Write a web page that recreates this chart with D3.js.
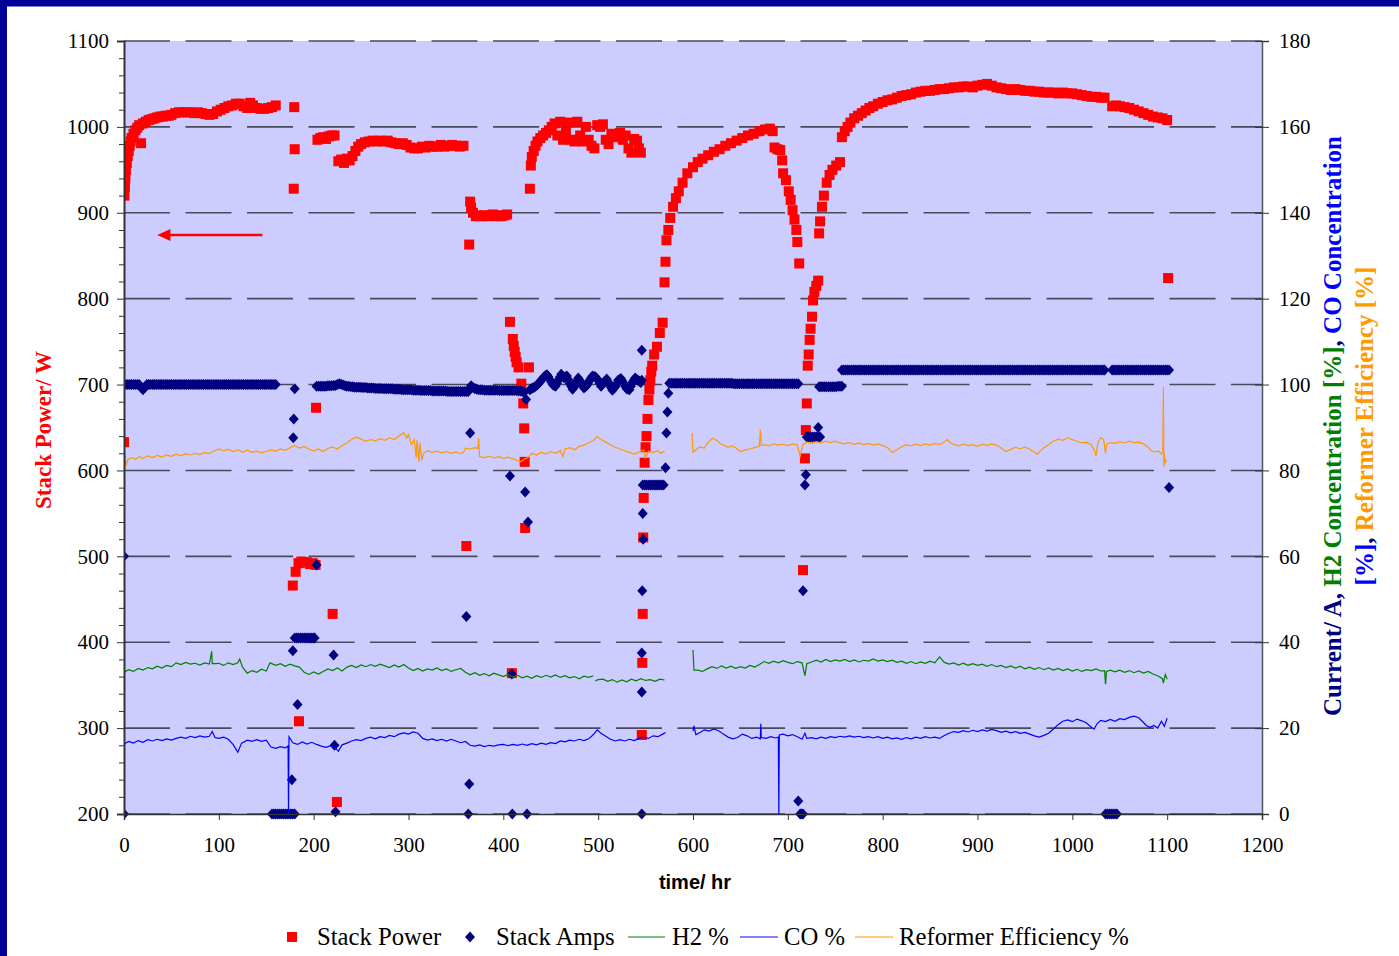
<!DOCTYPE html>
<html><head><meta charset="utf-8">
<script src="https://cdnjs.cloudflare.com/ajax/libs/d3/7.8.5/d3.min.js"></script>
<style>html,body{margin:0;padding:0;background:#fff;}svg{display:block;}</style>
</head><body>
<script>
// ---------------- DATA ----------------
const xTicks = [0,100,200,300,400,500,600,700,800,900,1000,1100,1200];
const leftTicks = [200,300,400,500,600,700,800,900,1000,1100];
const rightTicks = [0,20,40,60,80,100,120,140,160,180];
const seriesNames = ["Stack Power","Stack Amps","H2 %","CO %","Reformer Efficiency %"];

// Stack Power [hr, W]
const powerPts = [
[0,633],[0.5,920],[1,930],[1.5,940],[2,950],[3,958],[4,966],[5,972],[6,978],[7,983],[8,987],[10,992],[12,996],[14,999],[16,1002],[18,981],[20,1004],[23,1006],[26,1008],[29,1009],[32,1010],[35,1011],[38,1012],[41,1012],[44,1013],[47,1013],[50,1014],[54,1016],[58,1017],[62,1017],[66,1017],[70,1017],[74,1016],[78,1017],[82,1016],[86,1015],[90,1014],[94,1015],[98,1018],[102,1020],[106,1022],[110,1024],[114,1025],[118,1027],[122,1027],[126,1024],[130,1022],[133,1028],[136,1025],[140,1022],[144,1021],[148,1021],[152,1022],[156,1023],[160,1025],
[179.5,1023],[180,974],[179,928],[178,466],[181,482],[184,492],[187,494],[190,493],[193,493],[196,491],[199,492],[202,490],[184.5,308],[202.5,673],[204,985],[207,987],[210,988],[213,986],[216,989],[219,990],[222,990],[220,433],[224.5,214],
[226,960],[229,962],[232,958],[235,963],[238,961],[241,966],[244,972],[247,977],[250,980],[254,982],[258,983],[262,984],[266,983],[270,984],[274,983],[278,984],[282,982],[286,981],[290,980],[294,981],[298,979],[302,976],[306,975],[310,975],[314,977],[318,976],[322,978],[326,977],[330,977],[334,979],[338,977],[342,978],[346,979],[350,978],[354,977],[358,978],
[361,512],[364,863],[365,913],[366,906],[368,900],[371,896],[374,897],[377,896],[380,897],[383,896],[386,897],[389,898],[392,896],[395,897],[398,896],[401,897],[404,898],[407,773],[409,364],[410,753],[411,745],[412,738],[413,732],[414,726],[416,720],[427,720],[419,701],[421,678],[422,649],[422.5,610],[423,533],
[428,928],[429,955],[430,965],[432,972],[434,978],[436,983],[439,987],[442,990],[445,993],[448,996],[451,1000],[454,1004],[457,990],[460,1006],[463,985],[466,996],[469,1005],[472,985],[475,983],[478,1006],[481,990],[484,983],[487,1000],[490,985],[493,978],[496,975],[499,1002],[502,1000],[505,1003],[508,985],[511,980],[514,992],[517,988],[520,990],[523,993],[526,985],[529,990],[532,975],[535,970],[538,986],[541,984],[543,975],[545,970],
[546,292],[546.5,376],[547,433],[547.5,522],[548,568],[549,609],[550,627],[551,640],[552,660],[553,682],[554,694],[555,705],[556,715],[557,722],[559,735],[562,744],[565,760],[568,772],[570,819],[571,843],[572,868],[574,880],[576,894],[579,907],[582,917],[585,925],[589,935],[594,946],[600,953],[605,959],[610,963],[616,967],[622,971],[628,974],[634,978],[640,981],[646,984],[652,987],[658,990],[664,992],[670,995],[676,997],[681,998],[684,995],
[686,976],[689,974],[692,973],[694,961],[695,946],[698,938],[701,925],[703,915],[705,903],[707,892],[709,880],[710,866],[712,841],[716,484],[718,614],[719,647],[720,678],[721,722],[722,735],[723,752],[724,765],[725.5,779],[726.6,798],[728,808],[730,815],[732,821],[733,876],[734,890],[736,907],[738,920],[741,935],[744,944],[747,950],[751,955],[755,959],[757,988],[760,995],[763,1000],[766,1005],[770,1010],[774,1013],[778,1016],[782,1019],[786,1022],[790,1024],[795,1027],[800,1029],[805,1031],[810,1032],[815,1034],[820,1036],[825,1037],[830,1038],[835,1040],[840,1041],[845,1042],[850,1042],[855,1043],[860,1044],[865,1044],[870,1045],[875,1046],[880,1046],[885,1047],[890,1047],[895,1046],[900,1048],[905,1049],[910,1050],[915,1048],[920,1046],[925,1045],[930,1044],[935,1043],[940,1044],[945,1043],[950,1042],[955,1042],[960,1041],[965,1041],[970,1040],[975,1040],[980,1040],[985,1039],[990,1040],[995,1039],[1000,1039],[1005,1038],[1010,1037],[1015,1036],[1020,1035],[1025,1035],[1030,1034],[1034,1034],[1042,1024],[1046,1025],[1050,1024],[1055,1023],[1060,1022],[1065,1020],[1070,1018],[1075,1016],[1080,1014],[1085,1012],[1090,1011],[1095,1010],[1100,1008],[1101,824]
];

// Stack Amps [hr, A]
const ampsBand1 = [[0,100],[2,100],[4,100],[6,100],[8,100],[10,100],[12,100],[14,100],[16,100],[18,99.4],[20,98.8],[22,99.4],[24,100],[26,100],[28,100],[30,100],[32,100],[34,100],[36,100],[38,100],[40,100],[42,100],[44,100],[46,100],[48,100],[50,100],[52,100],[54,100],[56,100],[58,100],[60,100],[62,100],[64,100],[66,100],[68,100],[70,100],[72,100],[74,100],[76,100],[78,100],[80,100],[82,100],[84,100],[86,100],[88,100],[90,100],[92,100],[94,100],[96,100],[98,100],[100,100],[102,100],[104,100],[106,100],[108,100],[110,100],[112,100],[114,100],[116,100],[118,100],[120,100],[122,100],[124,100],[126,100],[128,100],[130,100],[132,100],[134,100],[136,100],[138,100],[140,100],[142,100],[144,100],[146,100],[148,100],[150,100],[152,100],[154,100],[156,100],[158,100],[160,100]];
const ampsBand2 = [[203,99.6],[205,99.6],[207,99.6],[209,99.6],[211,99.6],[213,99.6],[215,99.7],[217,99.7],[219,99.7],[221,99.8],[223,99.8],[225,100.0],[227,100.2],[229,100.1],[231,99.9],[233,99.7],[235,99.6],[237,99.6],[239,99.5],[241,99.5],[243,99.4],[245,99.4],[247,99.4],[249,99.4],[251,99.3],[253,99.3],[255,99.3],[257,99.2],[259,99.2],[261,99.2],[263,99.2],[265,99.1],[267,99.1],[269,99.1],[271,99.1],[273,99.0],[275,99.0],[277,99.0],[279,99.0],[281,99.0],[283,99.0],[285,98.9],[287,98.9],[289,98.9],[291,98.9],[293,98.8],[295,98.8],[297,98.8],[299,98.8],[301,98.8],[303,98.8],[305,98.7],[307,98.7],[309,98.7],[311,98.7],[313,98.6],[315,98.6],[317,98.6],[319,98.6],[321,98.6],[323,98.6],[325,98.5],[327,98.5],[329,98.5],[331,98.5],[333,98.5],[335,98.5],[337,98.5],[339,98.5],[341,98.4],[343,98.4],[345,98.4],[347,98.4],[349,98.4],[351,98.4],[353,98.4],[355,98.4],[357,98.4],[359,98.4],[361,98.4],[363,98.4]];
const ampsBand3 = [[366,99.7],[368,99.3],[370,99.0],[372,98.9],[374,98.8],[376,98.8],[378,98.8],[380,98.7],[382,98.7],[384,98.7],[386,98.7],[388,98.7],[390,98.7],[392,98.7],[394,98.7],[396,98.6],[398,98.6],[400,98.6],[402,98.6],[404,98.6],[406,98.6],[408,98.6],[410,98.6],[412,98.6],[414,98.6],[416,98.5],[418,98.5],[420,98.4],[422,98.2],[424,96.5]];
const ampsBand4 = [[428,98.8],[429.5,99.0],[431,99.2],[432.5,99.4],[434,99.6],[435.5,99.9],[437,100.2],[438.5,100.6],[440,101.0],[441.5,101.4],[443,101.8],[444.5,102.1],[446,102.3],[447.5,101.8],[449,101.2],[450.5,100.6],[452,100.0],[453.5,99.8],[455,99.6],[456.5,100.3],[458,101.0],[459.5,101.7],[461,102.4],[462.5,102.0],[464,101.6],[465.5,101.8],[467,102.0],[468.5,101.2],[470,100.3],[471.5,99.6],[473,98.9],[474.5,99.4],[476,100.0],[477.5,100.8],[479,101.5],[480.5,101.0],[482,100.5],[483.5,99.8],[485,99.2],[486.5,99.5],[488,99.8],[489.5,100.4],[491,101.0],[492.5,101.5],[494,102.0],[495.5,101.9],[497,101.8],[498.5,101.4],[500,101.0],[501.5,100.3],[503,99.6],[504.5,100.0],[506,100.5],[507.5,100.9],[509,101.3],[510.5,100.6],[512,100.0],[513.5,99.3],[515,98.7],[516.5,99.1],[518,99.5],[519.5,100.2],[521,101.0],[522.5,101.2],[524,101.4],[525.5,100.8],[527,100.2],[528.5,99.6],[530,99.0],[531.5,98.9],[533,98.8],[534.5,99.6],[536,100.5],[537.5,101.0],[539,101.5],[540.5,101.2],[542,101.0],[543.5,100.7],[545,100.5]];
const ampsBand5 = [[575,100.3],[577,100.3],[579,100.3],[581,100.3],[583,100.3],[585,100.3],[587,100.3],[589,100.3],[591,100.3],[593,100.3],[595,100.3],[597,100.3],[599,100.3],[601,100.3],[603,100.3],[605,100.3],[607,100.3],[609,100.3],[611,100.3],[613,100.3],[615,100.3],[617,100.3],[619,100.3],[621,100.3],[623,100.3],[625,100.3],[627,100.3],[629,100.3],[631,100.3],[633,100.3],[635,100.3],[637,100.3],[639,100.3],[641,100.3],[643,100.2],[645,100.2],[647,100.2],[649,100.2],[651,100.2],[653,100.2],[655,100.2],[657,100.2],[659,100.2],[661,100.2],[663,100.2],[665,100.2],[667,100.2],[669,100.2],[671,100.2],[673,100.2],[675,100.2],[677,100.2],[679,100.2],[681,100.2],[683,100.2],[685,100.2],[687,100.2],[689,100.2],[691,100.2],[693,100.2],[695,100.2],[697,100.2],[699,100.2],[701,100.2],[703,100.2],[705,100.2],[707,100.2],[709,100.2],[711,100.2]];
const ampsBand6 = [[733,99.5],[735,99.5],[737,99.5],[739,99.5],[741,99.5],[743,99.5],[745,99.5],[747,99.5],[749,99.5],[751,99.5],[753,99.6],[755,99.6],[757,99.6]];
const ampsBand7 = [[757,103.4],[759,103.4],[761,103.4],[763,103.4],[765,103.4],[767,103.4],[769,103.4],[771,103.4],[773,103.4],[775,103.4],[777,103.4],[779,103.4],[781,103.4],[783,103.4],[785,103.4],[787,103.4],[789,103.4],[791,103.4],[793,103.4],[795,103.4],[797,103.4],[799,103.4],[801,103.4],[803,103.4],[805,103.4],[807,103.4],[809,103.4],[811,103.4],[813,103.4],[815,103.4],[817,103.4],[819,103.4],[821,103.4],[823,103.4],[825,103.4],[827,103.4],[829,103.4],[831,103.4],[833,103.4],[835,103.4],[837,103.4],[839,103.4],[841,103.4],[843,103.4],[845,103.4],[847,103.4],[849,103.4],[851,103.4],[853,103.4],[855,103.4],[857,103.4],[859,103.4],[861,103.4],[863,103.4],[865,103.4],[867,103.4],[869,103.4],[871,103.4],[873,103.4],[875,103.4],[877,103.4],[879,103.4],[881,103.4],[883,103.4],[885,103.4],[887,103.4],[889,103.4],[891,103.4],[893,103.4],[895,103.4],[897,103.4],[899,103.4],[901,103.4],[903,103.4],[905,103.4],[907,103.4],[909,103.4],[911,103.4],[913,103.4],[915,103.4],[917,103.4],[919,103.4],[921,103.4],[923,103.4],[925,103.4],[927,103.4],[929,103.4],[931,103.4],[933,103.4],[935,103.4],[937,103.4],[939,103.4],[941,103.4],[943,103.4],[945,103.4],[947,103.4],[949,103.4],[951,103.4],[953,103.4],[955,103.4],[957,103.4],[959,103.4],[961,103.4],[963,103.4],[965,103.4],[967,103.4],[969,103.4],[971,103.4],[973,103.4],[975,103.4],[977,103.4],[979,103.4],[981,103.4],[983,103.4],[985,103.4],[987,103.4],[989,103.4],[991,103.4],[993,103.4],[995,103.4],[997,103.4],[999,103.4],[1001,103.4],[1003,103.4],[1005,103.4],[1007,103.4],[1009,103.4],[1011,103.4],[1013,103.4],[1015,103.4],[1017,103.4],[1019,103.4],[1021,103.4],[1023,103.4],[1025,103.4],[1027,103.4],[1029,103.4],[1031,103.4],[1033,103.4],[1034,103.4]];
const ampsBand8 = [[1042,103.4],[1044,103.4],[1046,103.4],[1048,103.4],[1050,103.4],[1052,103.4],[1054,103.4],[1056,103.4],[1058,103.4],[1060,103.4],[1062,103.4],[1064,103.4],[1066,103.4],[1068,103.4],[1070,103.4],[1072,103.4],[1074,103.4],[1076,103.4],[1078,103.4],[1080,103.4],[1082,103.4],[1084,103.4],[1086,103.4],[1088,103.4],[1090,103.4],[1092,103.4],[1094,103.4],[1096,103.4],[1098,103.4],[1100,103.4],[1102,103.4]];
const ampsScatter = [
[0,0],[0,60],
[156,0],[158,0],[160,0],[162,0],[164,0],[166,0],[168,0],[170,0],[172,0],[174,0],[176,0],[178,0],[180,0],[177,8],[178,38],[178.5,87.6],[179,92],[180,99],[183,25.5],[180,41],[182,41],[184,41],[186,41],[188,41],[190,41],[192,41],[194,41],[196,41],[198,41],[200,41],[201,41],[203,58],[221,37],[222,16],[223,0.5],
[365,88.7],[361,46],[364,7],[363,0],
[407,78.7],[409,32.6],[409.5,0],[423,75],[426,68],[425,0],
[546,108],[546,101],[547,70],[547.5,64],[546.5,52],[546,37.5],[546,28.4],[546,0],[547,76.6],[549,76.6],[551,76.6],[553,76.6],[555,76.6],[557,76.6],[559,76.6],[561,76.6],[563,76.6],[565,76.6],[567,76.6],[569,76.6],[571,80.6],[572,88.7],[573,93.6],[574,98],
[711,3],[713,0],[714.5,0],[716,0],[716,52],[718,76.6],[719,79],[720,87.8],[722,87.8],[724,87.8],[726,87.8],[728,87.8],[730,87.8],[732,87.8],[734,87.8],[732,90],
[1035,0],[1037,0],[1039,0],[1041,0],[1043,0],[1045,0],[1047,0],
[1102,76]
];
const ampsPts = [].concat(ampsBand1, ampsBand2, ampsBand3, ampsBand4, ampsBand5, ampsBand6, ampsBand7, ampsBand8, ampsScatter);

// H2 % [hr, %]
const h2Seg1 = [[0,33.0],[5,33.6],[10,33.2],[15,33.9],[20,33.5],[25,34.1],[30,33.8],[35,34.4],[40,34.0],[45,34.6],[50,34.3],[55,35.2],[60,34.8],[65,35.3],[70,34.9],[75,35.1],[80,34.7],[85,35.2],[90,34.9],[92.5,37.9],[93,35.0],[97,35.0],[100,35.1],[105,34.6],[110,35.2],[115,34.8],[120,35.2],[122,36.1],[125,34.2],[130,32.8],[135,33.4],[140,33.0],[145,33.7],[150,33.3],[154,35.2],[160,34.6],[165,35.0],[170,34.4],[175,34.9],[180,34.5],[185,34.2],[190,33.0],[195,32.5],[200,33.1],[205,32.6],[210,33.2],[215,33.8],[220,33.4],[225,34.0],[230,33.3],[235,34.2],[240,34.6],[245,34.1],[250,34.7],[255,34.3],[260,34.8],[265,34.4],[270,34.9],[275,34.5],[280,34.1],[285,34.7],[290,34.2],[295,34.8],[300,34.0],[305,33.4],[310,33.9],[315,33.3],[320,33.8],[325,33.5],[330,34.0],[335,33.4],[340,33.8],[345,33.2],[350,33.6],[355,33.9],[360,33.0],[365,32.4],[370,32.9],[375,32.3],[380,32.7],[385,32.2],[390,32.8],[395,32.4],[400,32.0],[405,32.5],[410,31.9],[415,32.3],[420,31.7],[425,32.1],[430,31.6],[435,32.2],[440,31.8],[445,32.3],[450,31.9],[455,32.4],[460,31.8],[465,32.2],[470,31.7],[475,32.0],[480,31.5],[485,32.1],[490,31.8],[495,32.2]];
const h2Seg2 = [[497,31.0],[500,31.3],[505,31.4],[510,30.9],[515,31.3],[520,30.7],[525,31.2],[530,30.8],[535,31.4],[540,31.0],[545,31.5],[550,31.1],[555,31.3],[560,30.9],[565,31.4],[570,31.2]];
const h2Seg3 = [[600,38.2],[601,33.5],[605,33.5],[610,33.2],[615,33.8],[620,34.3],[625,33.9],[630,34.5],[635,34.0],[640,34.4],[645,33.9],[650,34.3],[655,34.0],[660,34.6],[665,34.2],[670,34.8],[675,35.5],[680,35.1],[685,35.6],[690,35.2],[695,35.7],[700,35.3],[705,35.0],[710,35.5],[715,35.2],[718,32.2],[720,35.0],[725,35.4],[730,35.8],[735,35.4],[740,36.0],[745,35.5],[750,35.9],[755,35.6],[760,36.0],[765,35.5],[770,35.9],[775,35.4],[780,35.8],[785,35.6],[790,36.1],[795,35.6],[800,35.9],[805,35.5],[810,35.8],[815,35.3],[820,35.6],[825,35.1],[830,35.5],[835,35.0],[840,35.4],[845,35.1],[850,35.6],[855,35.2],[860,36.6],[865,35.3],[870,34.9],[875,35.2],[880,34.7],[885,35.1],[890,34.6],[895,35.0],[900,34.6],[905,34.9],[910,34.4],[915,34.8],[920,34.3],[925,34.6],[930,34.1],[935,34.5],[940,34.0],[945,34.4],[950,33.8],[955,34.2],[960,33.7],[965,34.1],[970,33.6],[975,34.0],[980,33.5],[985,33.9],[990,33.4],[995,33.8],[1000,33.3],[1005,33.7],[1010,33.2],[1015,33.6],[1020,33.4],[1025,33.8],[1030,33.3],[1034,33.4],[1035,30.2],[1036,33.2],[1040,33.5],[1045,33.1],[1050,33.5],[1055,33.0],[1060,33.4],[1065,32.9],[1070,33.3],[1075,32.8],[1080,33.2],[1085,32.6],[1090,32.2],[1095,31.5],[1096,30.5],[1098,32.5],[1100,31.4]];

// CO % [hr, %]
const coSeg1 = [[0,16.3],[5,16.9],[10,16.5],[15,17.1],[20,16.7],[25,17.3],[30,17.0],[35,17.4],[40,17.1],[45,17.5],[50,17.2],[55,17.6],[60,17.9],[65,17.6],[70,18.1],[75,17.8],[80,18.2],[85,17.9],[90,18.1],[93,19.2],[96,17.8],[100,17.6],[105,17.9],[110,17.4],[115,16.2],[120,14.4],[124,16.5],[130,17.2],[135,16.9],[140,17.3],[145,16.9],[150,17.2],[155,15.6],[160,15.3],[165,15.7],[170,15.4],[173,15.8],[173.5,0],[174,18.0],[178,16.6],[183,16.2],[188,16.8],[193,16.3],[198,16.7],[203,16.2],[208,15.8],[213,15.5],[218,15.9],[223,15.4],[226,14.6],[230,16.1],[235,16.5],[240,17.0],[245,17.3],[250,17.1],[255,17.6],[260,17.9],[265,17.5],[270,18.0],[275,17.8],[280,18.3],[285,18.0],[290,18.6],[295,18.9],[300,18.6],[305,19.1],[310,18.8],[315,17.6],[320,17.2],[325,17.5],[330,17.1],[335,17.4],[340,17.0],[345,17.4],[350,17.0],[355,16.6],[360,16.9],[365,16.0],[370,15.8],[375,16.1],[380,15.7],[385,16.0],[390,15.8],[395,16.1],[400,16.2],[405,15.9],[410,16.2],[415,16.0],[420,16.3],[425,16.0],[430,16.4],[435,16.1],[440,16.5],[445,16.2],[450,16.6],[455,16.4],[460,17.0],[465,16.8],[470,17.2],[475,17.0],[480,17.4],[485,17.1],[490,17.5],[495,18.5],[499,19.6],[503,18.8],[508,18.1],[513,17.4],[518,17.0],[523,17.3],[528,17.0],[533,17.4],[538,17.1],[543,17.6],[548,17.9],[553,17.6],[558,18.2],[563,18.0],[568,18.6],[571,19.0]];
const coSeg2 = [[600,19.3],[601,20.5],[603,18.5],[607,18.9],[612,19.6],[617,19.3],[622,19.8],[627,19.4],[632,18.6],[637,17.9],[642,17.5],[647,17.8],[652,18.6],[657,18.2],[662,17.6],[667,17.9],[671,17.5],[671.5,21.0],[672,17.8],[677,17.6],[682,18.0],[687,17.7],[690,17.9],[690.5,0],[691,18.4],[695,18.6],[700,18.2],[705,18.5],[710,18.0],[715,17.4],[718,18.8],[720,17.6],[725,17.8],[730,17.5],[735,17.9],[740,17.6],[745,18.0],[750,17.8],[755,18.1],[760,17.9],[765,18.2],[770,17.9],[775,18.1],[780,17.8],[785,18.0],[790,17.7],[795,18.0],[800,17.6],[805,17.9],[810,17.5],[815,17.7],[820,17.4],[825,17.8],[830,17.5],[835,17.9],[840,17.6],[845,18.0],[850,17.7],[855,17.9],[860,17.6],[865,18.3],[870,18.8],[875,19.2],[880,19.0],[885,19.4],[890,19.1],[895,19.5],[900,19.2],[905,19.6],[910,19.3],[915,19.7],[920,19.4],[925,19.0],[930,19.3],[935,18.9],[940,19.2],[945,18.8],[950,19.0],[955,18.6],[960,18.2],[965,17.9],[970,18.3],[975,18.8],[980,19.8],[985,20.8],[990,21.6],[995,21.9],[1000,21.5],[1005,22.1],[1010,21.7],[1015,21.2],[1020,20.2],[1023,19.8],[1026,21.0],[1030,21.8],[1035,21.5],[1040,22.0],[1045,21.6],[1050,22.2],[1055,22.0],[1060,22.5],[1065,22.8],[1070,22.4],[1075,21.3],[1078,20.6],[1082,20.2],[1086,20.6],[1090,20.0],[1094,21.6],[1097,20.4],[1100,22.3]];

// Reformer Efficiency % [hr, %]
const effSeg1 = [[0,81.5],[1,84.0],[2,81.0],[4,82.5],[8,83.0],[12,82.6],[16,83.2],[20,82.8],[25,83.4],[30,83.0],[35,83.5],[40,83.1],[45,83.6],[50,83.3],[55,83.8],[60,83.4],[65,83.9],[70,83.6],[75,84.0],[80,83.7],[85,84.2],[90,83.9],[95,84.6],[100,85.0],[105,84.6],[110,84.9],[115,84.4],[120,84.8],[125,84.3],[130,84.7],[135,84.2],[140,84.5],[145,84.1],[150,84.4],[155,84.8],[160,84.5],[165,85.0],[170,84.7],[175,85.3],[180,85.8],[185,85.2],[190,85.6],[195,85.0],[200,84.5],[205,85.0],[210,84.4],[215,85.1],[220,85.5],[225,85.0],[230,85.8],[235,86.4],[240,87.2],[245,87.8],[250,87.3],[255,86.8],[260,87.2],[265,86.9],[270,87.4],[275,87.0],[280,87.6],[285,87.2],[290,88.0],[295,88.8],[298,87.5],[300,88.4],[303,86.0],[306,87.2],[308,83.0],[309,87.0],[311,82.0],[312,86.5],[314,82.4],[316,84.0],[320,84.6],[325,84.2],[330,84.5],[335,84.1],[340,84.4],[345,84.0],[350,84.3],[355,83.9],[358,84.2],[360,85.2],[365,85.0],[370,85.3],[373,85.1],[374,87.5],[375,83.2],[380,83.0],[385,83.3],[390,82.9],[395,83.2],[400,82.8],[405,83.1],[410,82.7],[415,82.3],[418,82.0],[422,82.6],[426,83.0],[430,84.0],[435,83.6],[440,84.2],[445,83.8],[450,84.4],[455,84.0],[460,84.6],[463,83.2],[465,85.0],[470,85.3],[475,84.8],[480,85.6],[485,85.9],[490,86.4],[495,87.0],[499,87.9],[503,87.2],[508,86.6],[513,86.0],[518,85.4],[523,85.0],[528,84.6],[533,84.2],[538,83.8],[543,84.3],[548,84.8],[550,83.0],[553,84.5],[558,84.2],[563,84.6],[566,84.0],[570,84.5]];
const effSeg2 = [[599,88.7],[600,84.2],[603,84.8],[607,85.5],[612,85.2],[617,86.8],[621,87.5],[625,87.0],[629,86.2],[633,85.8],[637,85.4],[641,85.7],[645,85.3],[650,84.4],[655,84.8],[660,85.0],[665,85.3],[670,85.6],[671,89.4],[672,85.8],[676,86.0],[680,85.7],[685,86.2],[690,85.9],[695,86.1],[700,85.8],[705,86.2],[710,85.9],[713,83.4],[716,86.0],[720,86.6],[725,86.3],[730,86.7],[735,86.4],[740,86.8],[745,86.5],[750,86.8],[755,86.4],[760,86.2],[765,86.5],[770,86.1],[775,86.4],[780,86.0],[785,86.3],[790,85.9],[795,86.2],[800,85.8],[805,85.3],[810,84.2],[815,84.8],[820,85.5],[825,86.0],[830,85.7],[835,86.1],[840,85.8],[845,86.2],[850,85.9],[855,86.3],[860,86.0],[865,86.6],[868,87.2],[872,86.4],[876,86.0],[880,85.7],[885,86.1],[890,85.8],[895,86.0],[900,85.6],[905,86.1],[910,85.8],[915,86.2],[920,85.9],[925,85.2],[930,84.4],[935,84.9],[940,85.4],[945,85.0],[950,85.4],[955,85.0],[960,84.2],[963,83.8],[966,84.5],[970,85.3],[975,86.0],[980,86.8],[985,87.3],[990,87.0],[995,87.6],[1000,87.2],[1005,86.8],[1010,86.4],[1015,86.6],[1020,86.0],[1023,84.8],[1025,83.4],[1027,86.5],[1030,87.6],[1033,87.2],[1035,84.0],[1036,86.0],[1040,86.5],[1045,86.3],[1050,86.7],[1055,86.4],[1060,86.8],[1065,86.5],[1070,86.6],[1075,86.2],[1079,85.6],[1083,84.6],[1087,84.3],[1091,84.5],[1094,83.8],[1095.5,84.6],[1096,99.4],[1096.5,80.8],[1097,84.0],[1098,81.7],[1099,82.5]];

// ---------------- DRAW ----------------
const W = 1399, H = 956;
const svg = d3.select("body").append("svg").attr("width", W).attr("height", H);
svg.append("rect").attr("x",0).attr("y",0).attr("width",W).attr("height",H).attr("fill","#fff");
svg.append("rect").attr("x",3.5).attr("y",3).attr("width",W+20).attr("height",H+20)
  .attr("fill","none").attr("stroke","#000099").attr("stroke-width",7);

const L = 124, R = 1262, T = 41, B = 814;
const x = d3.scaleLinear().domain([0,1200]).range([L,R]);
const yL = d3.scaleLinear().domain([200,1100]).range([B,T]);
const yR = d3.scaleLinear().domain([0,180]).range([B,T]);
const serif = "'Liberation Serif','Times New Roman',serif";

svg.append("rect").attr("x",L).attr("y",T).attr("width",R-L).attr("height",B-T).attr("fill","#CCCCFF");

svg.append("g").selectAll("line").data(leftTicks).join("line")
  .attr("x1",L).attr("x2",R).attr("y1",d=>yL(d)).attr("y2",d=>yL(d))
  .attr("stroke","#4a4a5a").attr("stroke-width",1.6).attr("stroke-dasharray","46,15.5");

svg.append("clipPath").attr("id","plotclip").append("rect").attr("x",L).attr("y",T-6).attr("width",R-L).attr("height",B-T+12);
const plot = svg.append("g").attr("clip-path","url(#plotclip)");

plot.append("g").selectAll("rect").data(powerPts).join("rect")
  .attr("x",d=>x(d[0])-5).attr("y",d=>yL(d[1])-5).attr("width",10).attr("height",10).attr("fill","#FF0000");
const dia = "M0,-5.5L5,0L0,5.5L-5,0Z";
plot.append("g").selectAll("path").data(ampsPts).join("path")
  .attr("d",dia).attr("transform",d=>`translate(${x(d[0])},${yR(d[1])})`).attr("fill","#000080");

const line = d3.line().x(d=>x(d[0])).y(d=>yR(d[1]));
function drawLine(data,color){
  plot.append("path").datum(data).attr("d",line).attr("fill","none").attr("stroke",color).attr("stroke-width",1.2);
}
drawLine(h2Seg1,"#008000"); drawLine(h2Seg2,"#008000"); drawLine(h2Seg3,"#008000");
drawLine(coSeg1,"#0000FF"); drawLine(coSeg2,"#0000FF");
drawLine(effSeg1,"#FF9900"); drawLine(effSeg2,"#FF9900");

function styleAxis(g){
  g.attr("font-family",serif).attr("font-size",21);
  g.selectAll("text").style("font-family",serif).style("font-size","21px").attr("fill","#000");
  g.selectAll("line").attr("stroke","#333");
}
const axL = svg.append("g").attr("transform",`translate(${L},0)`)
  .call(d3.axisLeft(yL).tickValues(leftTicks).tickSize(7).tickPadding(8).tickFormat(d3.format("d")));
axL.select(".domain").attr("stroke","#333").attr("stroke-width",2);
styleAxis(axL);
const minorVals = [220,240,260,280,320,340,360,380,420,440,460,480,520,540,560,580,620,640,660,680,720,740,760,780,820,840,860,880,920,940,960,980,1020,1040,1060,1080];
const axLm = svg.append("g").attr("transform",`translate(${L},0)`)
  .call(d3.axisLeft(yL).tickValues(minorVals).tickSize(5).tickFormat(""));
axLm.select(".domain").remove(); axLm.selectAll("line").attr("stroke","#333");

const axR = svg.append("g").attr("transform",`translate(${R},0)`)
  .call(d3.axisRight(yR).tickValues(rightTicks).tickSize(7).tickPadding(10).tickFormat(d3.format("d")));
axR.select(".domain").attr("stroke","#555").attr("stroke-width",1.5);
styleAxis(axR);
const axRi = svg.append("g").attr("transform",`translate(${R},0)`)
  .call(d3.axisLeft(yR).tickValues(rightTicks).tickSize(7).tickFormat(""));
axRi.select(".domain").remove(); axRi.selectAll("line").attr("stroke","#333");

const axB = svg.append("g").attr("transform",`translate(0,${B})`)
  .call(d3.axisBottom(x).tickValues(xTicks).tickSize(6).tickPadding(17).tickFormat(d3.format("d")));
axB.select(".domain").attr("stroke","#333").attr("stroke-width",1.5);
styleAxis(axB);

svg.append("text").attr("x",695).attr("y",889).attr("text-anchor","middle")
  .attr("font-family","'Liberation Sans',Arial,sans-serif").attr("font-weight","bold").attr("font-size",20).text("time/ hr");
svg.append("text").attr("transform","translate(51,430) rotate(-90)").attr("text-anchor","middle")
  .attr("font-family",serif).attr("font-weight","bold").attr("font-size",23).attr("fill","#FF0000").text("Stack Power/ W");

const rt1 = svg.append("text").attr("transform","translate(1341,426) rotate(-90)").attr("text-anchor","middle")
  .attr("font-family",serif).attr("font-weight","bold").attr("font-size",25);
rt1.append("tspan").attr("fill","#000080").text("Current/ A, ");
rt1.append("tspan").attr("fill","#008000").text("H2 Concentration [%]");
rt1.append("tspan").attr("fill","#000080").text(", ");
rt1.append("tspan").attr("fill","#0000FF").text("CO Concentration");
const rt2 = svg.append("text").attr("transform","translate(1373,426) rotate(-90)").attr("text-anchor","middle")
  .attr("font-family",serif).attr("font-weight","bold").attr("font-size",25);
rt2.append("tspan").attr("fill","#0000FF").text("[%]");
rt2.append("tspan").attr("fill","#000080").text(", ");
rt2.append("tspan").attr("fill","#FF9900").text("Reformer Efficiency [%]");

svg.append("line").attr("x1",x(146)).attr("y1",235).attr("x2",x(42)).attr("y2",235)
  .attr("stroke","#FF0000").attr("stroke-width",2.5);
svg.append("path").attr("d",`M${x(35)},235 L${x(49)},229 L${x(49)},241 Z`).attr("fill","#FF0000");

const lg = svg.append("g").attr("font-family",serif).attr("font-size",24.7);
const ly = 937;
lg.append("rect").attr("x",287).attr("y",ly-5).attr("width",10).attr("height",10).attr("fill","#FF0000");
lg.append("text").attr("x",317).attr("y",ly+8).text(seriesNames[0]);
lg.append("path").attr("d",dia).attr("transform",`translate(470,${ly})`).attr("fill","#000080");
lg.append("text").attr("x",496).attr("y",ly+8).text(seriesNames[1]);
lg.append("line").attr("x1",628).attr("x2",665).attr("y1",ly).attr("y2",ly).attr("stroke","#008000").attr("stroke-width",1.2);
lg.append("text").attr("x",672).attr("y",ly+8).text(seriesNames[2]);
lg.append("line").attr("x1",740).attr("x2",778).attr("y1",ly).attr("y2",ly).attr("stroke","#0000FF").attr("stroke-width",1.2);
lg.append("text").attr("x",784).attr("y",ly+8).text(seriesNames[3]);
lg.append("line").attr("x1",855).attr("x2",893).attr("y1",ly).attr("y2",ly).attr("stroke","#FF9900").attr("stroke-width",1.2);
lg.append("text").attr("x",899).attr("y",ly+8).text(seriesNames[4]);
</script>
</body></html>
